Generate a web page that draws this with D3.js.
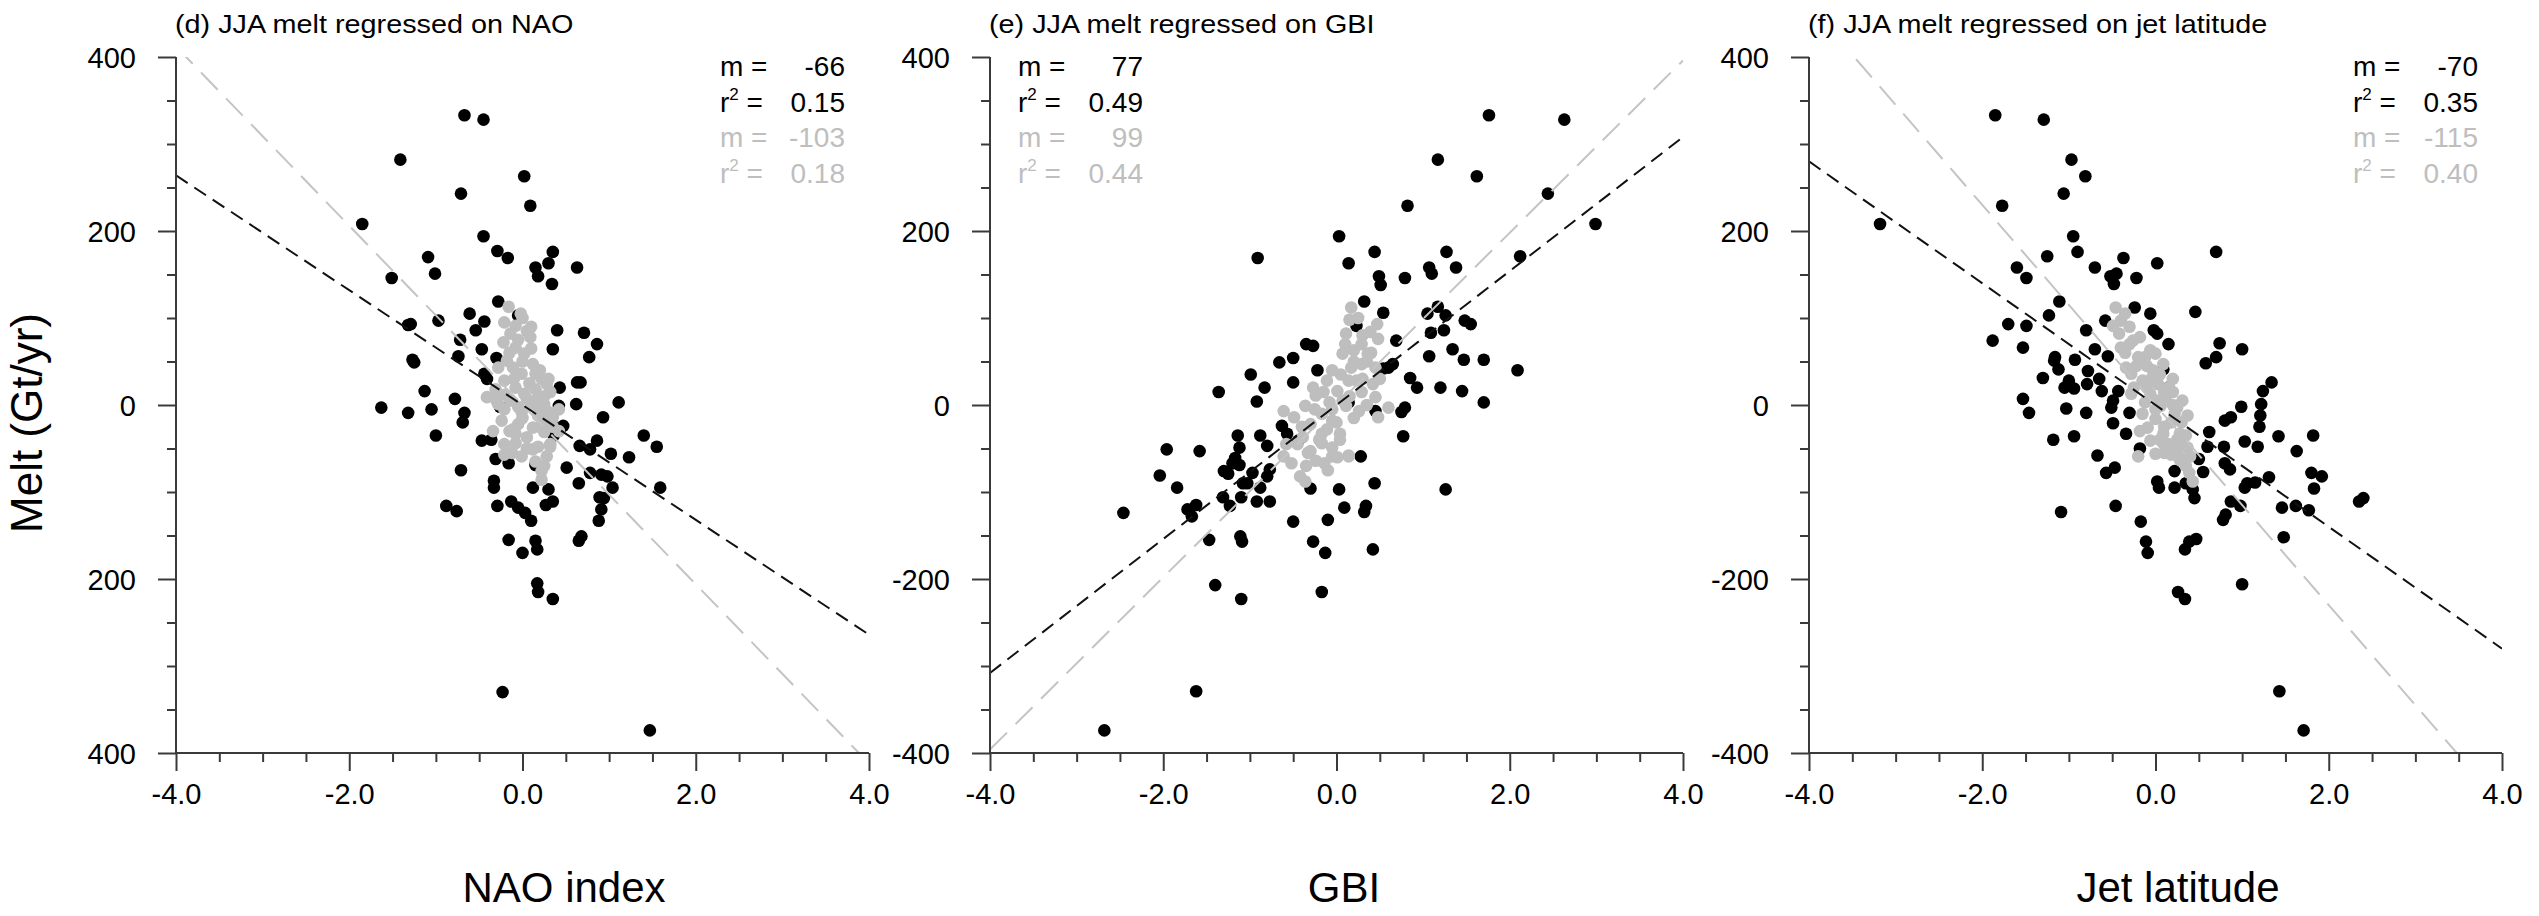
<!DOCTYPE html>
<html>
<head>
<meta charset="utf-8">
<script src="https://cdn.jsdelivr.net/npm/d3@7"></script>
<style>
  html, body { margin: 0; padding: 0; background: #fff; }
  svg { display: block; }
  text { font-family: "Liberation Sans", Arial, Helvetica, sans-serif; }
</style>
</head>
<body>
<svg id="chart" width="2539" height="916"></svg>
<script>
// ---------------- DATA ----------------
const titles = ["(d) JJA melt regressed on NAO", "(e) JJA melt regressed on GBI", "(f) JJA melt regressed on jet latitude"];
const xTitles = ["NAO index", "GBI", "Jet latitude"];
const yTitle = "Melt (Gt/yr)";
const xTickValues = [-4, -2, 0, 2, 4];
const xTickLabels = ["-4.0", "-2.0", "0.0", "2.0", "4.0"];
const yTickValues = [400, 200, 0, -200, -400];
const yTickLabelsD = ["400", "200", "0", "200", "400"];
const yTickLabels = ["400", "200", "0", "-200", "-400"];

const slopeBlack = [-66, 77, -70];
const slopeGray = [-103, 99, -115];
const interceptBlack = [0, 0, 0];
const interceptGray = [0, 0, 0];
const r2Black = [0.15, 0.49, 0.35];
const r2Gray = [0.18, 0.44, 0.40];

const blackD = [[-0.67,333],[-0.45,328],[-1.41,282],[0.02,263],[-0.71,243],[0.09,229],[-1.85,208],[-0.45,194],[-0.29,177],[-0.17,169],[0.35,176],[-1.09,170],[0.15,158],[0.30,163],[0.63,158],[-1.51,146],[-1.01,151],[0.18,148],[0.34,139],[-0.28,119],[-0.05,103],[-0.61,105],[-0.44,96],[-1.32,92],[-1.29,93],[-0.97,97],[-0.54,86],[0.40,86],[0.71,83],[-0.72,75],[0.86,70],[-0.47,64],[0.35,64],[0.77,55],[-1.27,52],[-1.25,49],[-0.74,56],[-0.30,54],[-0.44,36],[-0.41,30],[0.63,26],[0.67,26],[0.43,20],[-1.13,16],[-1.63,-3],[-1.32,-9],[-1.05,-5],[-0.78,7],[-0.67,-9],[-0.69,-20],[-0.26,-2],[0.62,1],[0.42,-1],[1.11,3],[0.93,-14],[0.35,-24],[0.47,-24],[-1.00,-35],[-0.47,-41],[-0.36,-40],[0.66,-47],[0.78,-51],[0.86,-41],[1.02,-56],[1.23,-60],[1.40,-35],[1.55,-48],[0.36,-35],[-0.16,-67],[-0.31,-62],[0.15,-69],[-0.71,-75],[-0.33,-87],[-0.33,-95],[0.12,-95],[0.30,-97],[0.65,-90],[0.78,-78],[0.91,-80],[0.98,-82],[1.04,-95],[1.59,-95],[0.89,-106],[0.94,-107],[0.51,-72],[0.35,-111],[0.27,-115],[-0.29,-116],[-0.13,-111],[-0.05,-118],[0.03,-124],[0.10,-133],[-0.88,-116],[-0.76,-122],[0.91,-120],[0.88,-133],[-0.16,-155],[0.15,-156],[0.17,-166],[0.00,-170],[0.65,-156],[0.68,-151],[0.17,-205],[0.18,-215],[0.35,-223],[-0.23,-330],[1.47,-374]];
const grayD = [[-0.16,113],[-0.21,95],[-0.08,91],[-0.22,72],[-0.08,66],[-0.18,51],[0.12,47],[0.22,30],[-0.01,36],[-0.21,28],[-0.31,18],[-0.08,20],[0.15,18],[0.32,15],[-0.41,9],[-0.14,5],[0.05,7],[0.25,1],[0.42,-5],[-0.21,-5],[-0.01,-8],[0.18,-12],[0.35,-14],[-0.24,-18],[-0.05,-22],[0.12,-26],[0.25,-31],[-0.08,-33],[0.05,-37],[0.32,-45],[-0.21,-45],[0.12,-51],[-0.08,-44],[0.18,-48],[-0.21,-57],[-0.01,-59],[0.28,-59],[0.22,-76],[0.22,-86],[0.32,-48],[-0.11,43],[0.02,59],[0.09,78],[-0.14,82],[0.15,36],[0.28,24],[-0.28,1],[0.18,-5],[-0.11,-28],[0.25,-20],[-0.34,-30],[0.42,-30],[0.02,13],[-0.28,43],[0.00,100],[0.05,85],[-0.05,75],[0.10,65],[-0.15,60],[0.00,50],[0.20,40],[-0.10,30],[0.08,25],[0.25,10],[-0.20,12],[0.10,0],[-0.05,-2],[0.30,-8],[0.00,-15],[0.20,-25],[-0.15,-30],[0.05,-50],[0.15,-65],[0.25,-70],[-0.12,-55],[0.35,-25],[0.15,5],[-0.30,5],[0.30,30],[0.10,90],[-0.02,105]];

const blackE = [[1.76,333],[2.63,328],[1.17,282],[1.62,263],[2.44,243],[0.82,229],[2.99,208],[0.03,194],[0.44,176],[1.27,176],[-0.91,169],[0.14,163],[1.07,158],[1.10,151],[1.38,158],[2.12,171],[0.49,148],[0.51,138],[0.79,146],[0.32,119],[0.54,106],[0.23,91],[1.05,105],[1.17,113],[1.26,103],[1.48,97],[1.55,93],[1.09,83],[1.24,86],[0.69,74],[-0.35,70],[-0.27,68],[-0.50,54],[-0.66,49],[1.34,64],[1.07,56],[1.47,52],[1.70,52],[2.09,40],[-0.22,40],[-0.99,35],[-0.50,26],[-0.83,20],[0.54,42],[0.65,47],[0.60,43],[0.85,31],[0.93,20],[1.20,20],[1.45,16],[-1.36,15],[-0.92,4],[1.70,3],[0.79,-3],[0.75,-8],[0.45,-7],[-0.63,-24],[-0.57,-33],[-0.88,-35],[-1.14,-35],[0.77,-36],[-0.44,-41],[-1.96,-51],[-1.58,-53],[-1.12,-49],[-0.80,-47],[0.28,-59],[0.14,3],[-1.17,-61],[-1.12,-69],[-1.20,-67],[-2.04,-81],[-1.84,-95],[-1.30,-76],[-1.25,-79],[-0.97,-78],[-1.03,-90],[-1.08,-90],[-0.88,-95],[-0.77,-74],[-0.80,-82],[-0.30,-96],[0.03,-97],[0.44,-90],[1.26,-97],[-1.31,-106],[-1.23,-116],[-1.10,-106],[-0.92,-111],[-0.77,-111],[-1.72,-120],[-1.62,-115],[-1.67,-128],[-2.46,-124],[-0.50,-134],[-0.10,-132],[0.09,-118],[0.34,-116],[0.32,-123],[-1.47,-155],[-1.11,-151],[-1.09,-157],[-0.27,-157],[-0.13,-170],[0.42,-166],[-1.40,-207],[-0.17,-215],[-1.10,-223],[-1.62,-329],[-2.68,-374]];
const grayE = [[0.17,112],[0.15,98],[0.47,93],[0.39,84],[0.48,76],[0.20,63],[0.36,59],[0.07,59],[0.29,47],[0.17,43],[0.45,43],[0.42,24],[0.14,28],[-0.11,28],[0.01,16],[0.29,15],[-0.24,11],[-0.08,3],[0.11,-1],[0.45,9],[0.60,-3],[0.48,-14],[-0.36,-1],[-0.61,-7],[-0.17,-10],[-0.05,-18],[-0.30,-22],[-0.49,-14],[0.04,-33],[-0.17,-33],[-0.39,-37],[-0.58,-45],[-0.30,-53],[-0.05,-49],[0.14,-58],[0.01,-60],[-0.24,-64],[-0.61,-59],[-0.52,-67],[-0.33,-55],[-0.14,-67],[-0.05,-59],[0.14,-59],[-0.42,-82],[-0.36,-88],[-0.17,-44],[0.04,-40],[0.23,28],[-0.05,40],[0.07,5],[0.26,-7],[-0.27,20],[-0.11,-28],[0.29,70],[0.11,82],[0.25,100],[0.30,80],[0.10,70],[0.35,50],[0.05,35],[0.30,30],[-0.15,15],[0.15,10],[0.35,0],[-0.05,-5],[0.20,-15],[-0.25,-5],[-0.40,-25],[-0.20,-40],[0.00,-20],[-0.45,-45],[-0.10,-75],[0.40,60],[0.50,30],[-0.35,-70],[0.20,50]];

const blackF = [[-1.85,333],[-1.29,328],[-0.97,282],[-0.81,263],[-1.06,243],[-1.77,229],[-3.18,208],[-0.95,194],[-0.90,176],[-1.25,171],[-0.37,169],[0.70,176],[0.02,163],[-1.60,158],[-1.49,146],[-0.70,158],[-0.52,148],[-0.45,151],[-0.48,139],[-0.22,146],[-1.11,119],[-0.24,112],[-0.06,105],[0.46,107],[-1.23,103],[-1.70,93],[-1.49,91],[-0.58,97],[-0.80,86],[-0.02,86],[0.02,82],[-1.88,74],[0.15,70],[0.74,71],[-1.53,66],[-0.70,64],[1.00,64],[-0.55,56],[0.70,55],[0.58,48],[-1.17,51],[-1.16,55],[-0.93,52],[-1.12,41],[-0.78,39],[-1.30,31],[-1.00,28],[-0.65,30],[-0.79,24],[-1.05,20],[-0.94,19],[-0.62,16],[-0.43,16],[0.15,20],[0.09,41],[1.34,26],[1.24,16],[1.22,1],[1.21,-12],[1.20,-25],[0.99,-2],[0.87,-14],[0.80,-18],[-1.53,7],[-1.46,-9],[-1.03,-4],[-0.80,-9],[-0.51,-3],[-0.49,5],[-0.30,-9],[-0.49,-21],[-0.34,-33],[-1.18,-40],[-0.94,-36],[-0.67,-58],[0.62,-31],[0.60,-48],[0.79,-48],[1.03,-42],[1.18,-48],[1.42,-36],[1.63,-53],[1.82,-35],[-0.18,-50],[0.50,-62],[-0.47,-72],[-0.57,-78],[0.22,-76],[0.55,-77],[0.80,-67],[0.86,-74],[0.02,-88],[0.04,-95],[0.22,-95],[0.35,-90],[0.43,-97],[0.45,-107],[1.06,-90],[1.03,-95],[1.15,-89],[1.31,-83],[1.80,-78],[1.92,-82],[1.83,-96],[0.87,-111],[0.98,-116],[-0.46,-116],[-1.09,-123],[1.46,-118],[1.62,-116],[1.77,-121],[2.35,-111],[2.40,-107],[0.78,-132],[0.81,-126],[-0.17,-134],[-0.11,-157],[-0.09,-170],[0.34,-166],[0.39,-157],[0.47,-154],[1.48,-152],[1.00,-206],[0.26,-215],[0.34,-223],[1.43,-329],[1.71,-374]];
const grayF = [[-0.46,112],[-0.40,97],[-0.49,91],[-0.42,82],[-0.26,74],[-0.18,78],[-0.40,66],[-0.06,63],[0.00,59],[-0.34,43],[-0.22,45],[-0.03,40],[0.20,30],[-0.15,28],[0.03,24],[-0.25,20],[-0.06,13],[0.12,9],[0.31,5],[-0.12,3],[0.06,-1],[0.25,-3],[0.37,-12],[-0.15,-10],[0.00,-16],[0.18,-20],[-0.09,-26],[0.09,-33],[0.28,-33],[-0.06,-41],[0.15,-45],[0.37,-49],[0.00,-56],[0.28,-60],[-0.20,-59],[0.18,-57],[0.40,-59],[0.39,-78],[0.43,-88],[0.09,-44],[0.31,-46],[-0.28,36],[0.09,47],[-0.12,55],[-0.28,13],[0.15,20],[0.22,-10],[0.03,5],[-0.18,-30],[0.28,-63],[-0.35,105],[-0.30,90],[-0.35,60],[-0.20,55],[-0.10,45],[0.05,35],[-0.05,30],[0.10,15],[0.20,0],[0.00,-5],[0.30,-20],[0.10,-25],[0.25,-40],[0.35,-35],[0.10,-55],[0.35,-70],[-0.10,20],[0.05,-40],[0.20,15],[-0.30,70],[0.25,-50]];

const blackSets = [blackD, blackE, blackF];
const graySets = [grayD, grayE, grayF];
const yLabelSets = [yTickLabelsD, yTickLabels, yTickLabels];

// ---------------- LAYOUT ----------------
const plotLefts = [176, 990, 1809];
const plotW = 693, plotTop = 57, plotBottom = 753;
const xTitleCenters = [564, 1344, 2178];
const statsSide = ["right", "left", "right"];
const BLACK = "#000", GRAY = "#bebebe", AXIS = "#3a3a3a";
const DOT_R = 6.3;

const svg = d3.select("#chart");
svg.append("rect").attr("width", 2539).attr("height", 916).attr("fill", "#fff");

const defs = svg.append("defs");

for (let p = 0; p < 3; p++) {
  const x0 = plotLefts[p];
  const x = d3.scaleLinear().domain([-4, 4]).range([x0, x0 + plotW]);
  const y = d3.scaleLinear().domain([-400, 400]).range([plotBottom, plotTop]);
  const g = svg.append("g");

  defs.append("clipPath").attr("id", "clip" + p)
    .append("rect").attr("x", x0).attr("y", plotTop).attr("width", plotW).attr("height", plotBottom - plotTop);

  // title
  g.append("text")
    .attr("transform", `translate(${x0 - 1},33) scale(1.2,1.05)`)
    .attr("font-size", 24).attr("fill", "#000")
    .text(titles[p]);

  // dots
  const plot = g.append("g").attr("clip-path", `url(#clip${p})`);
  plot.append("g").selectAll("circle").data(blackSets[p]).join("circle")
    .attr("cx", d => x(d[0])).attr("cy", d => y(d[1])).attr("r", DOT_R).attr("fill", BLACK);
  plot.append("g").selectAll("circle").data(graySets[p]).join("circle")
    .attr("cx", d => x(d[0])).attr("cy", d => y(d[1])).attr("r", DOT_R).attr("fill", GRAY);

  // regression lines
  const xs = [-4, 4];
  const lineGen = (m, b) => d3.line().x(d => x(d)).y(d => y(m * d + b))(xs);
  plot.append("path").attr("d", lineGen(slopeGray[p], interceptGray[p]))
    .attr("fill", "none").attr("stroke", "#c4c4c4").attr("stroke-width", 2)
    .attr("stroke-dasharray", "24,12");
  plot.append("path").attr("d", lineGen(slopeBlack[p], interceptBlack[p]))
    .attr("fill", "none").attr("stroke", "#111").attr("stroke-width", 2)
    .attr("stroke-dasharray", "14,8");

  // axes
  const xMinor = d3.range(-4, 4.01, 0.5).filter(v => Math.abs(v % 2) > 1e-9);
  const yMinor = d3.range(-400, 401, 50).filter(v => v % 200 !== 0);

  const xAxisMinor = d3.axisBottom(x).tickValues(xMinor).tickSize(9).tickFormat("");
  const xAxisMajor = d3.axisBottom(x).tickValues(xTickValues).tickSize(18)
    .tickFormat((d, i) => xTickLabels[i]).tickPadding(12);
  const yAxisMinor = d3.axisLeft(y).tickValues(yMinor).tickSize(9).tickFormat("");
  const yAxisMajor = d3.axisLeft(y).tickValues(yTickValues).tickSize(18)
    .tickFormat((d, i) => yLabelSets[p][i]).tickPadding(22);

  const styleAxis = sel => {
    sel.select(".domain").remove();
    sel.selectAll("line").attr("stroke", AXIS).attr("stroke-width", 2);
    sel.selectAll("text").attr("font-size", 29).attr("fill", "#000")
      .attr("font-family", '"Liberation Sans", Arial, sans-serif');
  };

  g.append("g").attr("transform", `translate(0,${plotBottom})`).call(xAxisMinor).call(styleAxis);
  g.append("g").attr("transform", `translate(0,${plotBottom})`).call(xAxisMajor).call(styleAxis)
    .selectAll("text").attr("dy", "0.71em");
  g.append("g").attr("transform", `translate(${x0},0)`).call(yAxisMinor).call(styleAxis);
  g.append("g").attr("transform", `translate(${x0},0)`).call(yAxisMajor).call(styleAxis)
    .selectAll("text").attr("dy", "0.36em");

  // axis lines
  g.append("line").attr("x1", x0).attr("x2", x0 + plotW).attr("y1", plotBottom).attr("y2", plotBottom)
    .attr("stroke", AXIS).attr("stroke-width", 2);
  g.append("line").attr("x1", x0).attr("x2", x0).attr("y1", plotTop).attr("y2", plotBottom)
    .attr("stroke", AXIS).attr("stroke-width", 2);

  // x axis title
  g.append("text").attr("x", xTitleCenters[p]).attr("y", 902)
    .attr("text-anchor", "middle").attr("font-size", 42)
    .attr("font-family", "Lato, 'Open Sans', sans-serif").attr("fill", "#000")
    .text(xTitles[p]);

  // stats
  let blockLeft, blockRight;
  if (statsSide[p] === "right") { blockRight = x0 + plotW - 24; blockLeft = blockRight - 125; }
  else { blockLeft = x0 + 28; blockRight = blockLeft + 125; }
  const rows = [
    { lab: "m", val: String(slopeBlack[p]), col: "#000", y: 76 },
    { lab: "r", val: r2Black[p].toFixed(2), col: "#000", y: 112 },
    { lab: "m", val: String(slopeGray[p]), col: GRAY, y: 147 },
    { lab: "r", val: r2Gray[p].toFixed(2), col: GRAY, y: 183 }
  ];
  rows.forEach(r => {
    const t = g.append("text").attr("x", blockLeft).attr("y", r.y)
      .attr("font-size", 28).attr("fill", r.col);
    if (r.lab === "m") {
      t.text("m =");
    } else {
      t.append("tspan").text("r");
      t.append("tspan").attr("font-size", 17).attr("dy", -12).text("2");
      t.append("tspan").attr("dy", 12).text(" =");
    }
    g.append("text").attr("x", blockRight).attr("y", r.y).attr("text-anchor", "end")
      .attr("font-size", 28).attr("fill", r.col).text(r.val);
  });
}

// y axis title
svg.append("text")
  .attr("transform", "translate(42,423) rotate(-90)")
  .attr("text-anchor", "middle").attr("font-size", 44).attr("fill", "#000")
  .text(yTitle);
</script>
</body>
</html>
